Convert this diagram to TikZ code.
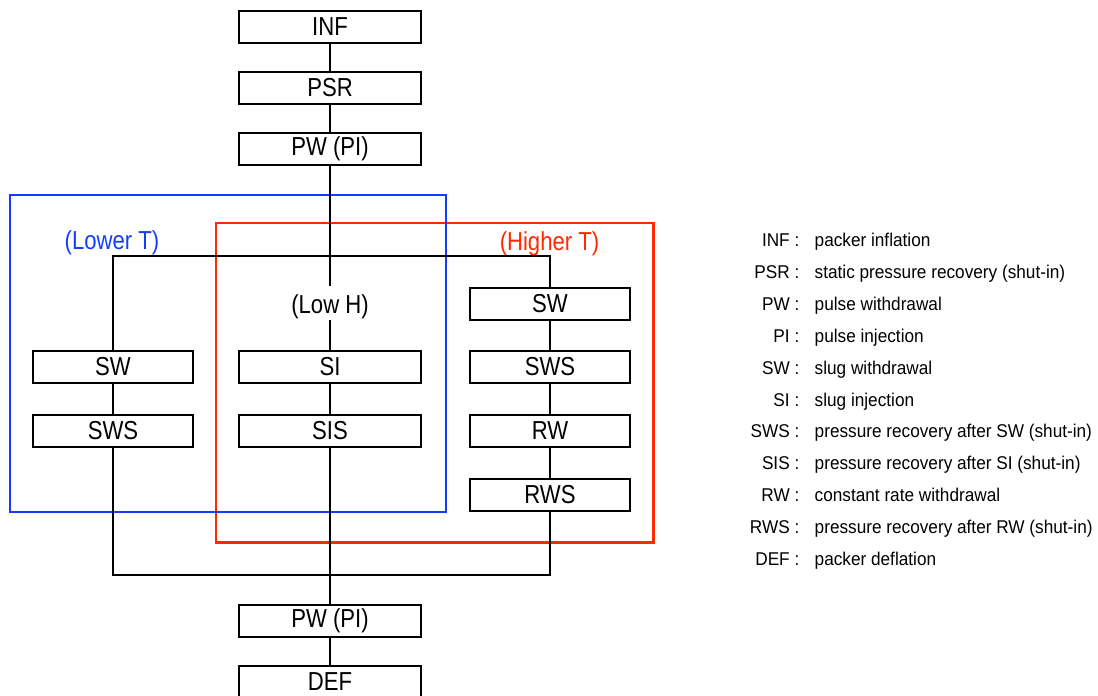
\documentclass[tikz,border=0pt]{standalone}
\usepackage{fontspec}
\setmainfont{Liberation Sans}
\newfontfamily\boxfont{Liberation Sans}[FakeStretch=0.85]
\newfontfamily\keyfont{Liberation Sans}[FakeStretch=0.93]
\usepackage{tikz}
\definecolor{lowblue}{RGB}{20,60,255}
\definecolor{highred}{RGB}{255,40,0}
\tikzstyle{stage} = [draw, line width=1.8pt, inner sep=0pt, minimum height=32pt, font={\boxfont\fontsize{26}{30}\selectfont}]
\tikzstyle{wide} = [stage, minimum width=182pt]
\tikzstyle{narrow} = [stage, minimum width=159.5pt]
\tikzstyle{tag} = [inner sep=0pt, font={\boxfont\fontsize{26}{30}\selectfont}]
\tikzstyle{link} = [draw, line width=2pt]
\tikzstyle{region} = [line width=2.2pt]
\tikzstyle{legkey} = [anchor=base east, inner sep=0pt, font={\keyfont\fontsize{18.5}{22}\selectfont}]
\tikzstyle{legtext} = [legkey, anchor=base west]

\begin{document}
\begin{tikzpicture}[x=1pt,y=1pt]
        \useasboundingbox (0,0) rectangle (1098,-696);
        % test regions
        \draw[region,highred] (216,-223) rectangle (653.5,-542.5);
        \draw[region,lowblue] (10,-195) rectangle (446,-512);
        \node[tag,lowblue](lowt) at (112,-243){(Lower T)};
        \node[tag,highred](hight) at (549.5,-244){(Higher T)};
        % sequence
        \node[wide](inf) at (330,-27){INF};
        \node[wide](psr) at (330,-88){PSR};
        \node[wide](pw1) at (330,-149){PW (PI)};
        \node[tag,anchor=base,text height=27pt,text depth=7pt](lowh) at (330,-313){(Low H)};
        \node[wide](si) at (330,-367){SI};
        \node[wide](sis) at (330,-431){SIS};
        \node[narrow](swl) at (113,-367){SW};
        \node[narrow](swsl) at (113,-431){SWS};
        \node[narrow](swr) at (550,-304){SW};
        \node[narrow](swsr) at (550,-367){SWS};
        \node[narrow](rw) at (550,-431){RW};
        \node[narrow](rws) at (550,-495){RWS};
        \node[wide](pw2) at (330,-621){PW (PI)};
        \node[wide](def) at (330,-682){DEF};
        \coordinate (fork) at (330,-256);
        \coordinate (merge) at (330,-575);
        \draw[link](inf)--(psr);
        \draw[link](psr)--(pw1);
        \draw[link](pw1)--(lowh);
        \draw[link](lowh)--(si);
        \draw[link](si)--(sis);
        \draw[link](swl.north)|-(fork)-|(swr.north);
        \draw[link](swl)--(swsl);
        \draw[link](swr)--(swsr);
        \draw[link](swsr)--(rw);
        \draw[link](rw)--(rws);
        \draw[link](swsl.south)|-(merge)-|(rws.south);
        \draw[link](sis)--(pw2);
        \draw[link](pw2)--(def);
        % legend
        \foreach \abbr/\what [count=\i] in {INF/packer inflation,
            PSR/static pressure recovery (shut-in), PW/pulse withdrawal,
            PI/pulse injection, SW/slug withdrawal, SI/slug injection,
            SWS/pressure recovery after SW (shut-in),
            SIS/pressure recovery after SI (shut-in),
            RW/constant rate withdrawal,
            RWS/pressure recovery after RW (shut-in), DEF/packer deflation}{
          \node[legkey](k\i) at (799.5,{-246.5-31.9*(\i-1)}){\abbr\ :};
          \node[legtext](d\i) at (814.5,{-246.5-31.9*(\i-1)}){\what};
        }
      \end{tikzpicture}
\end{document}
